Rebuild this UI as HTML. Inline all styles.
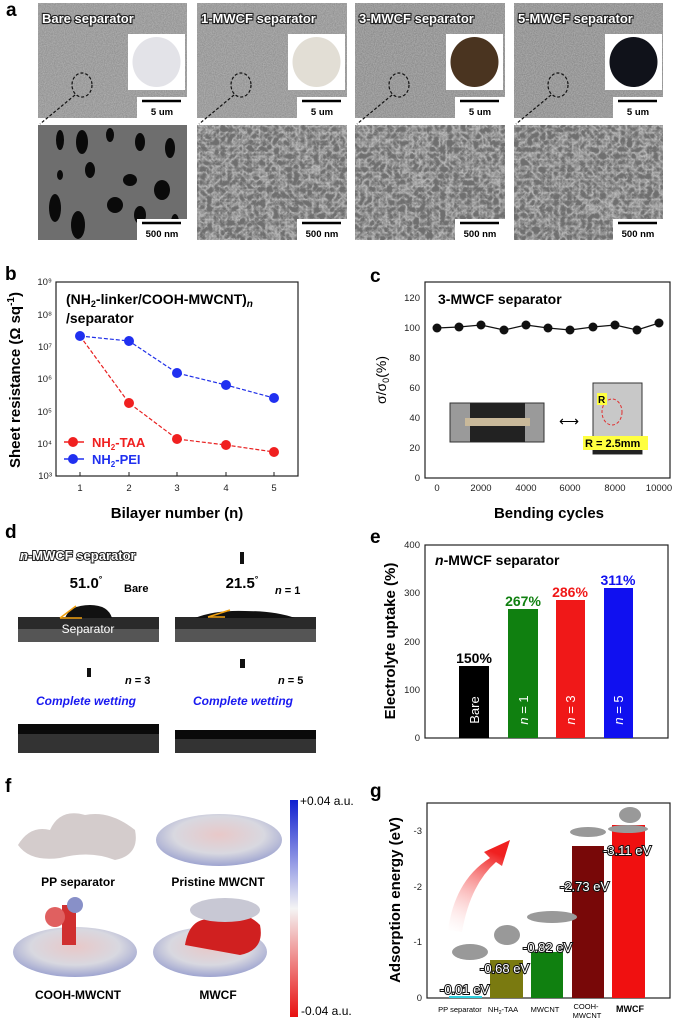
<!DOCTYPE html>
<html><head><meta charset="utf-8"><style>
html,body{margin:0;padding:0;background:#fff;}
svg{display:block;font-family:"Liberation Sans",Arial,sans-serif;}
.lab{font-weight:bold;font-size:19px;}
.tk{font-size:9.5px;fill:#222;}
.ax{font-weight:bold;font-size:15px;}
.sem{font-weight:bold;font-size:13px;fill:#fff;stroke:#222;stroke-width:2.2px;paint-order:stroke;}
.ev{font-size:13px;fill:#fff;stroke:#111;stroke-width:2px;paint-order:stroke;}
</style></head><body>
<svg width="677" height="1024" viewBox="0 0 677 1024" xmlns="http://www.w3.org/2000/svg">
<defs>
<filter id="n1" x="0" y="0" width="1" height="1"><feTurbulence type="fractalNoise" baseFrequency="0.9" numOctaves="2" seed="3"/><feColorMatrix type="matrix" values="0 0 0 0 0.55  0 0 0 0 0.55  0 0 0 0 0.55  0.9 0 0 0 -0.1"/></filter>
<filter id="n2" x="0" y="0" width="1" height="1"><feTurbulence type="turbulence" baseFrequency="0.15" numOctaves="3" seed="7"/><feColorMatrix type="matrix" values="0 0 0 0 0.72  0 0 0 0 0.72  0 0 0 0 0.72  -1.0 -1.0 0 0 0.85"/></filter>
<linearGradient id="cb" x1="0" y1="0" x2="0" y2="1"><stop offset="0" stop-color="#1020d0"/><stop offset="0.5" stop-color="#f4f4f4"/><stop offset="1" stop-color="#e81010"/></linearGradient>
<linearGradient id="arr" x1="0" y1="1" x2="0.3" y2="0"><stop offset="0" stop-color="#fff" stop-opacity="0.2"/><stop offset="1" stop-color="#f02020"/></linearGradient>
<radialGradient id="mol" cx="0.5" cy="0.4" r="0.6"><stop offset="0" stop-color="#e8c8c8"/><stop offset="0.6" stop-color="#d8d8e0"/><stop offset="1" stop-color="#9ea4d0"/></radialGradient>
</defs>

<!-- Panel a -->
<text x="6" y="16" class="lab">a</text>
<g>
<rect x="38" y="3" width="149" height="115" fill="#8c8c8c"/><rect x="38" y="3" width="149" height="115" filter="url(#n1)"/>
<rect x="197" y="3" width="150" height="115" fill="#8c8c8c"/><rect x="197" y="3" width="150" height="115" filter="url(#n1)"/>
<rect x="355" y="3" width="150" height="115" fill="#858585"/><rect x="355" y="3" width="150" height="115" filter="url(#n1)"/>
<rect x="514" y="3" width="149" height="115" fill="#858585"/><rect x="514" y="3" width="149" height="115" filter="url(#n1)"/>

<rect x="38" y="125" width="149" height="115" fill="#6e6e6e"/>
<g fill="#0a0a0a"><ellipse cx="60" cy="140" rx="4" ry="10"/><ellipse cx="82" cy="142" rx="6" ry="12"/><ellipse cx="110" cy="135" rx="4" ry="7"/><ellipse cx="140" cy="142" rx="5" ry="9"/><ellipse cx="170" cy="148" rx="5" ry="10"/><ellipse cx="90" cy="170" rx="5" ry="8"/><ellipse cx="130" cy="180" rx="7" ry="6"/><ellipse cx="162" cy="190" rx="8" ry="10"/><ellipse cx="55" cy="208" rx="6" ry="14"/><ellipse cx="78" cy="225" rx="7" ry="14"/><ellipse cx="115" cy="205" rx="8" ry="8"/><ellipse cx="140" cy="215" rx="6" ry="9"/><ellipse cx="60" cy="175" rx="3" ry="5"/><ellipse cx="175" cy="222" rx="4" ry="8"/></g>
<rect x="197" y="125" width="150" height="115" fill="#6f6f6f"/><rect x="197" y="125" width="150" height="115" filter="url(#n2)"/>
<rect x="355" y="125" width="150" height="115" fill="#6f6f6f"/><rect x="355" y="125" width="150" height="115" filter="url(#n2)"/>
<rect x="514" y="125" width="149" height="115" fill="#6f6f6f"/><rect x="514" y="125" width="149" height="115" filter="url(#n2)"/>

<rect x="128" y="34" width="57" height="56" fill="#fff"/><ellipse cx="156.5" cy="62" rx="24" ry="25" fill="#e3e3e8"/>
<rect x="288" y="34" width="57" height="56" fill="#fff"/><ellipse cx="316.5" cy="62" rx="24" ry="25" fill="#e2ded5"/>
<rect x="446" y="34" width="57" height="56" fill="#fff"/><ellipse cx="474.5" cy="62" rx="24" ry="25" fill="#4a3420"/>
<rect x="605" y="34" width="57" height="56" fill="#fff"/><ellipse cx="633.5" cy="62" rx="24" ry="25" fill="#10121a"/>
<g fill="#fff"><rect x="137" y="97" width="50" height="21"/><rect x="297" y="97" width="50" height="21"/><rect x="455" y="97" width="50" height="21"/><rect x="613" y="97" width="50" height="21"/>
<rect x="137" y="219" width="50" height="21"/><rect x="297" y="219" width="50" height="21"/><rect x="455" y="219" width="50" height="21"/><rect x="613" y="219" width="50" height="21"/></g>
<g stroke="#000" stroke-width="2.5"><line x1="142" y1="101" x2="181" y2="101"/><line x1="302" y1="101" x2="341" y2="101"/><line x1="460" y1="101" x2="499" y2="101"/><line x1="618" y1="101" x2="657" y2="101"/>
<line x1="142" y1="223" x2="181" y2="223"/><line x1="302" y1="223" x2="341" y2="223"/><line x1="460" y1="223" x2="499" y2="223"/><line x1="618" y1="223" x2="657" y2="223"/></g>
<g font-size="9.5" font-weight="bold" text-anchor="middle"><text x="162" y="115">5 um</text><text x="322" y="115">5 um</text><text x="480" y="115">5 um</text><text x="638" y="115">5 um</text>
<text x="162" y="237">500 nm</text><text x="322" y="237">500 nm</text><text x="480" y="237">500 nm</text><text x="638" y="237">500 nm</text></g>
<g fill="none" stroke="#111" stroke-width="1.2" stroke-dasharray="3,2"><ellipse cx="82" cy="85" rx="10" ry="12"/><ellipse cx="241" cy="85" rx="10" ry="12"/><ellipse cx="399" cy="85" rx="10" ry="12"/><ellipse cx="558" cy="85" rx="10" ry="12"/>
<line x1="75" y1="95" x2="40" y2="124"/><line x1="234" y1="95" x2="199" y2="124"/><line x1="392" y1="95" x2="357" y2="124"/><line x1="551" y1="95" x2="516" y2="124"/></g>
<text x="42" y="23" class="sem">Bare separator</text>
<text x="201" y="23" class="sem">1-MWCF separator</text>
<text x="359" y="23" class="sem">3-MWCF separator</text>
<text x="518" y="23" class="sem">5-MWCF separator</text>
</g>

<!-- Panel b -->
<text x="5" y="280" class="lab">b</text>
<rect x="56" y="282" width="242" height="194" fill="none" stroke="#222" stroke-width="1.2"/>
<g class="tk" text-anchor="end">
<text x="52" y="285">10⁹</text><text x="52" y="318">10⁸</text><text x="52" y="350">10⁷</text><text x="52" y="382">10⁶</text><text x="52" y="415">10⁵</text><text x="52" y="447">10⁴</text><text x="52" y="479">10³</text></g>
<g class="tk" text-anchor="middle"><text x="80" y="491">1</text><text x="129" y="491">2</text><text x="177" y="491">3</text><text x="226" y="491">4</text><text x="274" y="491">5</text></g>
<g stroke="#222"><line x1="80" y1="476" x2="80" y2="472"/><line x1="129" y1="476" x2="129" y2="472"/><line x1="177" y1="476" x2="177" y2="472"/><line x1="226" y1="476" x2="226" y2="472"/><line x1="274" y1="476" x2="274" y2="472"/></g>
<text x="177" y="518" class="ax" text-anchor="middle">Bilayer number (n)</text>
<text transform="translate(20,380) rotate(-90)" class="ax" text-anchor="middle">Sheet resistance (Ω sq<tspan font-size="10" dy="-6">-1</tspan><tspan dy="6">)</tspan></text>
<text x="66" y="304" font-weight="bold" font-size="14">(NH<tspan font-size="9" dy="3">2</tspan><tspan dy="-3">-linker/COOH-MWCNT)</tspan><tspan font-style="italic" font-size="10" dy="3">n</tspan></text>
<text x="66" y="323" font-weight="bold" font-size="14">/separator</text>
<polyline points="80,336 129,341 177,373 226,385 274,398" fill="none" stroke="#2030e8" stroke-width="1.2" stroke-dasharray="4,2"/>
<polyline points="80,336 129,403 177,439 226,445 274,452" fill="none" stroke="#e82020" stroke-width="1.2" stroke-dasharray="4,2"/>
<g fill="#2030f0"><circle cx="129" cy="341" r="5"/><circle cx="177" cy="373" r="5"/><circle cx="226" cy="385" r="5"/><circle cx="274" cy="398" r="5"/><circle cx="80" cy="336" r="5"/></g>
<g fill="#f02020"><circle cx="129" cy="403" r="5"/><circle cx="177" cy="439" r="5"/><circle cx="226" cy="445" r="5"/><circle cx="274" cy="452" r="5"/></g>
<line x1="64" y1="442" x2="84" y2="442" stroke="#f02020" stroke-width="1.5"/><circle cx="73" cy="442" r="5" fill="#f02020"/>
<line x1="64" y1="459" x2="84" y2="459" stroke="#2030f0" stroke-width="1.5"/><circle cx="73" cy="459" r="5" fill="#2030f0"/>
<text x="92" y="447" font-weight="bold" font-size="13" fill="#f02020">NH<tspan font-size="8" dy="3">2</tspan><tspan dy="-3">-TAA</tspan></text>
<text x="92" y="464" font-weight="bold" font-size="13" fill="#2030f0">NH<tspan font-size="8" dy="3">2</tspan><tspan dy="-3">-PEI</tspan></text>

<!-- Panel c -->
<text x="370" y="282" class="lab">c</text>
<rect x="425" y="282" width="245" height="196" fill="none" stroke="#222" stroke-width="1.2"/>
<g class="tk" text-anchor="end"><text x="420" y="301">120</text><text x="420" y="331">100</text><text x="420" y="361">80</text><text x="420" y="391">60</text><text x="420" y="421">40</text><text x="420" y="451">20</text><text x="420" y="481">0</text></g>
<g class="tk" text-anchor="middle"><text x="437" y="491">0</text><text x="481" y="491">2000</text><text x="526" y="491">4000</text><text x="570" y="491">6000</text><text x="615" y="491">8000</text><text x="659" y="491">10000</text></g>
<text x="549" y="518" class="ax" text-anchor="middle">Bending cycles</text>
<text transform="translate(386,380) rotate(-90)" font-size="14" text-anchor="middle">σ/σ<tspan font-size="9" dy="3">0</tspan><tspan dy="-3">(%)</tspan></text>
<text x="438" y="304" font-weight="bold" font-size="14">3-MWCF separator</text>
<polyline points="437,328 459,327 481,325 504,330 526,325 548,328 570,330 593,327 615,325 637,330 659,323" fill="none" stroke="#111" stroke-width="1.2"/>
<g fill="#111"><circle cx="437" cy="328" r="4.5"/><circle cx="459" cy="327" r="4.5"/><circle cx="481" cy="325" r="4.5"/><circle cx="504" cy="330" r="4.5"/><circle cx="526" cy="325" r="4.5"/><circle cx="548" cy="328" r="4.5"/><circle cx="570" cy="330" r="4.5"/><circle cx="593" cy="327" r="4.5"/><circle cx="615" cy="325" r="4.5"/><circle cx="637" cy="330" r="4.5"/><circle cx="659" cy="323" r="4.5"/></g>
<rect x="450" y="403" width="94" height="39" fill="#9a9a9a" stroke="#333"/><rect x="470" y="403" width="55" height="39" fill="#222"/><rect x="465" y="418" width="65" height="8" fill="#c9b99a"/>
<text x="569" y="426" font-size="14" text-anchor="middle">⟷</text>
<rect x="593" y="383" width="49" height="71" fill="#c8c8c8" stroke="#333"/><rect x="593" y="436" width="49" height="18" fill="#222"/>
<ellipse cx="612" cy="412" rx="10" ry="13" fill="none" stroke="#e03030" stroke-dasharray="3,2"/>
<rect x="597" y="393" width="10" height="12" fill="#ffff40"/><text x="598" y="403" font-size="10" font-weight="bold">R</text>
<rect x="583" y="436" width="65" height="14" fill="#ffff40"/><text x="585" y="447" font-size="11" font-weight="bold">R = 2.5mm</text>

<!-- Panel d -->
<text x="5" y="538" class="lab">d</text>
<text x="20" y="560" font-weight="bold" font-style="italic" font-size="13" fill="#fff" stroke="#222" stroke-width="2" paint-order="stroke">n<tspan font-style="normal">-MWCF separator</tspan></text>
<rect x="18" y="617" width="141" height="25" fill="#2a2a2a"/><rect x="18" y="629" width="141" height="13" fill="#555"/>
<path d="M65,618 Q70,605 90,605 Q108,605 112,618 Z" fill="#111"/>
<rect x="175" y="617" width="141" height="25" fill="#2a2a2a"/><rect x="175" y="629" width="141" height="13" fill="#555"/>
<path d="M195,618 Q215,610 245,611 Q275,611 295,618 Z" fill="#111"/>
<g stroke="#f0a010" stroke-width="1.5" fill="none"><line x1="60" y1="618" x2="76" y2="606"/><line x1="60" y1="618" x2="82" y2="618"/><line x1="208" y1="617" x2="230" y2="610"/><line x1="208" y1="617" x2="225" y2="617"/></g>
<text x="88" y="633" font-size="12" fill="#fff" text-anchor="middle">Separator</text>
<text x="86" y="588" font-weight="bold" font-size="15" text-anchor="middle">51.0<tspan font-size="9" dy="-6">°</tspan></text>
<text x="124" y="592" font-weight="bold" font-size="11">Bare</text>
<text x="242" y="588" font-weight="bold" font-size="15" text-anchor="middle">21.5<tspan font-size="9" dy="-6">°</tspan></text>
<text x="275" y="594" font-weight="bold" font-size="11"><tspan font-style="italic">n</tspan> = 1</text>
<rect x="240" y="552" width="4" height="12" fill="#111"/>
<rect x="87" y="668" width="4" height="9" fill="#111"/><rect x="240" y="659" width="5" height="9" fill="#111"/>
<text x="125" y="684" font-weight="bold" font-size="11"><tspan font-style="italic">n</tspan> = 3</text>
<text x="278" y="684" font-weight="bold" font-size="11"><tspan font-style="italic">n</tspan> = 5</text>
<text x="86" y="705" font-weight="bold" font-style="italic" font-size="12" fill="#1a1af0" text-anchor="middle">Complete wetting</text>
<text x="243" y="705" font-weight="bold" font-style="italic" font-size="12" fill="#1a1af0" text-anchor="middle">Complete wetting</text>
<rect x="18" y="724" width="141" height="29" fill="#333"/><rect x="18" y="724" width="141" height="10" fill="#0a0a0a"/>
<rect x="175" y="730" width="141" height="23" fill="#333"/><rect x="175" y="730" width="141" height="9" fill="#0a0a0a"/>

<!-- Panel e -->
<text x="370" y="543" class="lab">e</text>
<rect x="425" y="545" width="243" height="193" fill="none" stroke="#222" stroke-width="1.2"/>
<g class="tk" text-anchor="end"><text x="420" y="548">400</text><text x="420" y="596">300</text><text x="420" y="645">200</text><text x="420" y="693">100</text><text x="420" y="741">0</text></g>
<text transform="translate(395,641) rotate(-90)" class="ax" text-anchor="middle">Electrolyte uptake (%)</text>
<text x="435" y="565" font-weight="bold" font-size="14"><tspan font-style="italic">n</tspan>-MWCF separator</text>
<rect x="459" y="666" width="30" height="72" fill="#000"/>
<rect x="508" y="609" width="30" height="129" fill="#108010"/>
<rect x="556" y="600" width="29" height="138" fill="#f01818"/>
<rect x="604" y="588" width="29" height="150" fill="#1010f0"/>
<g font-weight="bold" font-size="14" text-anchor="middle"><text x="474" y="663">150%</text><text x="523" y="606" fill="#108010">267%</text><text x="570" y="597" fill="#f01818">286%</text><text x="618" y="585" fill="#1010f0">311%</text></g>
<g fill="#fff" font-size="13" text-anchor="middle">
<text transform="translate(479,710) rotate(-90)">Bare</text>
<text transform="translate(528,710) rotate(-90)"><tspan font-style="italic">n</tspan> = 1</text>
<text transform="translate(575,710) rotate(-90)"><tspan font-style="italic">n</tspan> = 3</text>
<text transform="translate(623,710) rotate(-90)"><tspan font-style="italic">n</tspan> = 5</text></g>

<!-- Panel f -->
<text x="5" y="792" class="lab">f</text>
<path d="M18,845 Q30,825 50,830 Q60,808 85,815 Q110,810 135,830 Q140,855 115,860 Q90,850 60,858 Q30,862 18,845Z" fill="#d4cccc"/>
<ellipse cx="219" cy="840" rx="63" ry="26" fill="url(#mol)"/>
<ellipse cx="75" cy="952" rx="62" ry="25" fill="url(#mol)"/>
<rect x="62" y="905" width="14" height="40" fill="#d03030"/><circle cx="55" cy="917" r="10" fill="#e06060"/><circle cx="75" cy="905" r="8" fill="#8890c8"/>
<ellipse cx="210" cy="952" rx="57" ry="25" fill="url(#mol)"/>
<path d="M185,945 Q190,915 215,920 Q240,905 260,925 Q265,950 240,955Z" fill="#d02020"/>
<ellipse cx="225" cy="910" rx="35" ry="12" fill="#c8c8d4"/>
<g font-weight="bold" font-size="12" text-anchor="middle"><text x="78" y="886">PP separator</text><text x="218" y="886">Pristine MWCNT</text><text x="78" y="999">COOH-MWCNT</text><text x="218" y="999">MWCF</text></g>
<rect x="290" y="800" width="8" height="217" fill="url(#cb)"/>
<text x="300" y="805" font-size="12">+0.04 a.u.</text>
<text x="301" y="1015" font-size="12">-0.04 a.u.</text>

<!-- Panel g -->
<text x="370" y="797" class="lab">g</text>
<rect x="427" y="803" width="243" height="195" fill="none" stroke="#222" stroke-width="1.2"/>
<g class="tk" text-anchor="end"><text x="422" y="834">-3</text><text x="422" y="890">-2</text><text x="422" y="945">-1</text><text x="422" y="1001">0</text></g>
<text transform="translate(400,900) rotate(-90)" class="ax" text-anchor="middle">Adsorption energy (eV)</text>
<path d="M448,930 Q455,880 490,858 L484,852 L510,840 L502,866 L496,862 Q470,885 462,932Z" fill="url(#arr)"/>
<rect x="449" y="996" width="33" height="2" fill="#30d0e0"/>
<rect x="490" y="960" width="33" height="38" fill="#7a7a10"/>
<rect x="531" y="952" width="32" height="46" fill="#108010"/>
<rect x="572" y="846" width="32" height="152" fill="#780808"/>
<rect x="612" y="825" width="33" height="173" fill="#f01010"/>
<g fill="#999"><ellipse cx="470" cy="952" rx="18" ry="8"/><ellipse cx="507" cy="935" rx="13" ry="10"/><ellipse cx="552" cy="917" rx="25" ry="6"/><ellipse cx="588" cy="832" rx="18" ry="5"/><ellipse cx="628" cy="829" rx="20" ry="4"/><ellipse cx="630" cy="815" rx="11" ry="8"/></g>
<text x="440" y="994" class="ev">-0.01 eV</text>
<text x="480" y="973" class="ev">-0.68 eV</text>
<text x="523" y="952" class="ev">-0.82 eV</text>
<text x="560" y="891" class="ev">-2.73 eV</text>
<text x="603" y="855" class="ev">-3.11 eV</text>
<g font-size="7.5" text-anchor="middle"><text x="460" y="1012">PP separator</text><text x="503" y="1012">NH<tspan font-size="5" dy="2">2</tspan><tspan dy="-2">-TAA</tspan></text><text x="545" y="1012">MWCNT</text><text x="586" y="1009">COOH-</text><text x="587" y="1018">MWCNT</text><text x="630" y="1012" font-weight="bold" font-size="9">MWCF</text></g>
</svg>
</body></html>
